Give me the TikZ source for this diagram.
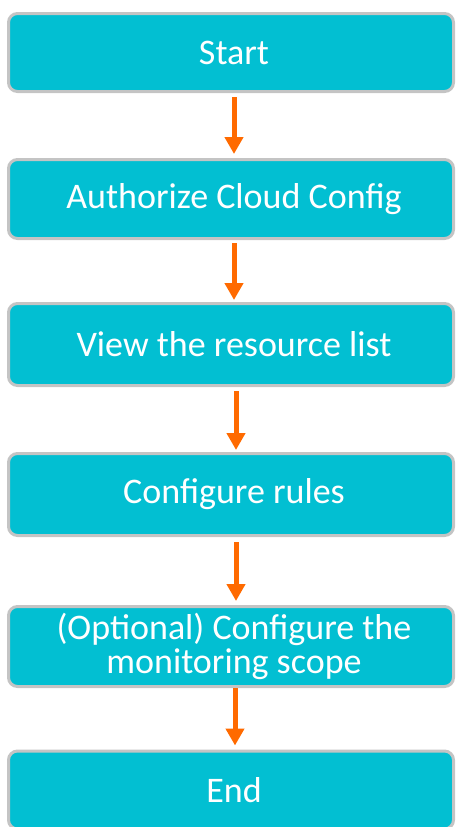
\documentclass[tikz,border=0pt]{standalone}
\usepackage{fontspec}
\setmainfont{Carlito}
\usetikzlibrary{arrows.meta}
\definecolor{boxfill}{HTML}{02BFD2}
\definecolor{boxedge}{HTML}{C4C4C4}
\definecolor{flow}{HTML}{FF6A00}
\tikzset{
  stepbox/.style={draw=boxedge, line width=3pt, fill=boxfill, rounded corners=9pt,
    minimum width=445pt, text=white, align=center, inner sep=0pt,
    font=\fontsize{36}{34}\selectfont},
  flowarrow/.style={draw=flow, line width=5pt,
    -{Triangle[width=18pt,length=17pt]}}
}
\begin{document}
\begin{tikzpicture}[x=1pt,y=-1pt]
  \useasboundingbox (0,0) rectangle (456,827);
  \node[stepbox, minimum height=78pt] (start) at (231,52.5) {\hspace*{6pt}Start};
  \node[stepbox, minimum height=79pt] (auth)  at (231,199) {\hspace*{6pt}Authorize Cloud Config};
  \node[stepbox, minimum height=82pt] (view)  at (231,344.5) {\hspace*{6pt}View the resource list};
  \node[stepbox, minimum height=82pt] (rules) at (231,494.5) {\hspace*{6pt}Configure rules};
  \node[stepbox, minimum height=80pt] (scope) at (231,646.5) {\hspace*{6pt}(Optional) Configure the\\\hspace*{6pt}monitoring scope};
  \node[stepbox, minimum height=78pt] (end)   at (231,790) {\hspace*{6pt}End};
  % connectors between consecutive steps
  \draw[flowarrow, shorten <=4pt, shorten >=4pt] ([xshift=3pt]start.south) -- ([xshift=3pt]auth.north);
  \draw[flowarrow, shorten <=3pt, shorten >=2pt] ([xshift=3pt]auth.south) -- ([xshift=3pt]view.north);
  \draw[flowarrow, shorten <=4pt, shorten >=2pt] ([xshift=5pt]view.south) -- ([xshift=5pt]rules.north);
  \draw[flowarrow, shorten <=5pt, shorten >=4pt] ([xshift=5pt]rules.south) -- ([xshift=5pt]scope.north);
  \draw[flowarrow, shorten <=0pt, shorten >=4pt] ([xshift=4pt]scope.south) -- ([xshift=4pt]end.north);
\end{tikzpicture}
\end{document}
